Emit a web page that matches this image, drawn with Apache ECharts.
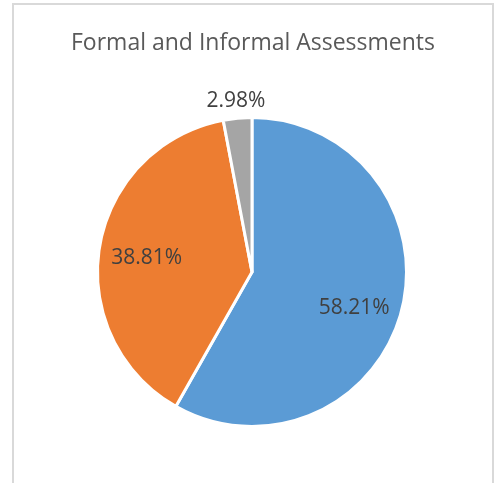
<!DOCTYPE html>
<html>
<head>
<meta charset="utf-8">
<script src="https://cdn.jsdelivr.net/npm/echarts@6/dist/echarts.min.js"></script>
<style>
	html, body { margin: 0; padding: 0; background: #fff; }
	#chart { width: 500px; height: 483px; }
</style>
</head>
<body>
<div id="chart"></div>
<script>
	// data
	var categories = ['Formal', 'Informal', 'Other'];
	var shares = [58.21, 38.81, 2.98];
	var colors = ['#5b9bd5', '#ed7d31', '#a5a5a5'];

	var pieData = categories.map(function (name, i) {
		return { name: name, value: shares[i], itemStyle: { color: colors[i] } };
	});

	var labelData = categories.map(function (name, i) {
		var d = { name: name, value: shares[i] };
		if (i === 2) {
			d.label = { position: 'outside', distanceToLabelLine: 0 };
			d.labelLine = { show: false, length: 17, length2: 0 };
		}
		return d;
	});

	// small nudges so the labels sit where the original puts them
	var labelNudge = [{ dx: -4, dy: 8 }, { dx: 3, dy: 4 }, { align: 'center' }];

	var myChart = echarts.init(document.getElementById('chart'));
	var option = {
		animation: false,
		title: {
			text: 'Formal and Informal Assessments',
			left: 248,
			textAlign: 'center',
			top: 27,
			textStyle: {
				fontFamily: 'Open Sans',
				fontSize: 23,
				fontWeight: 'normal',
				color: '#595959'
			}
		},
		graphic: [{
			type: 'rect',
			shape: { x: 13, y: 4, width: 480, height: 500 },
			style: { fill: 'none', stroke: '#d9d9d9', lineWidth: 2 },
			silent: true
		}],
		series: [{
			name: 'Assessments',
			type: 'pie',
			center: [252, 272],
			radius: [0, 154.5],
			startAngle: 90,
			clockwise: true,
			label: { show: false },
			labelLine: { show: false },
			itemStyle: { borderColor: '#fff', borderWidth: 3 },
			data: pieData
		}, {
			// transparent ring used only to place the labels like the original
			name: 'labels',
			type: 'pie',
			center: [252, 272],
			radius: [59, 154.5],
			startAngle: 90,
			clockwise: true,
			silent: true,
			itemStyle: { color: 'rgba(0,0,0,0)' },
			label: {
				show: true,
				position: 'inside',
				formatter: function (p) { return p.value.toFixed(2) + '%'; },
				fontFamily: 'Open Sans',
				fontSize: 21,
				color: '#404040'
			},
			labelLayout: function (p) {
				return labelNudge[p.dataIndex];
			},
			data: labelData
		}]
	};
	myChart.setOption(option);
</script>
</body>
</html>
